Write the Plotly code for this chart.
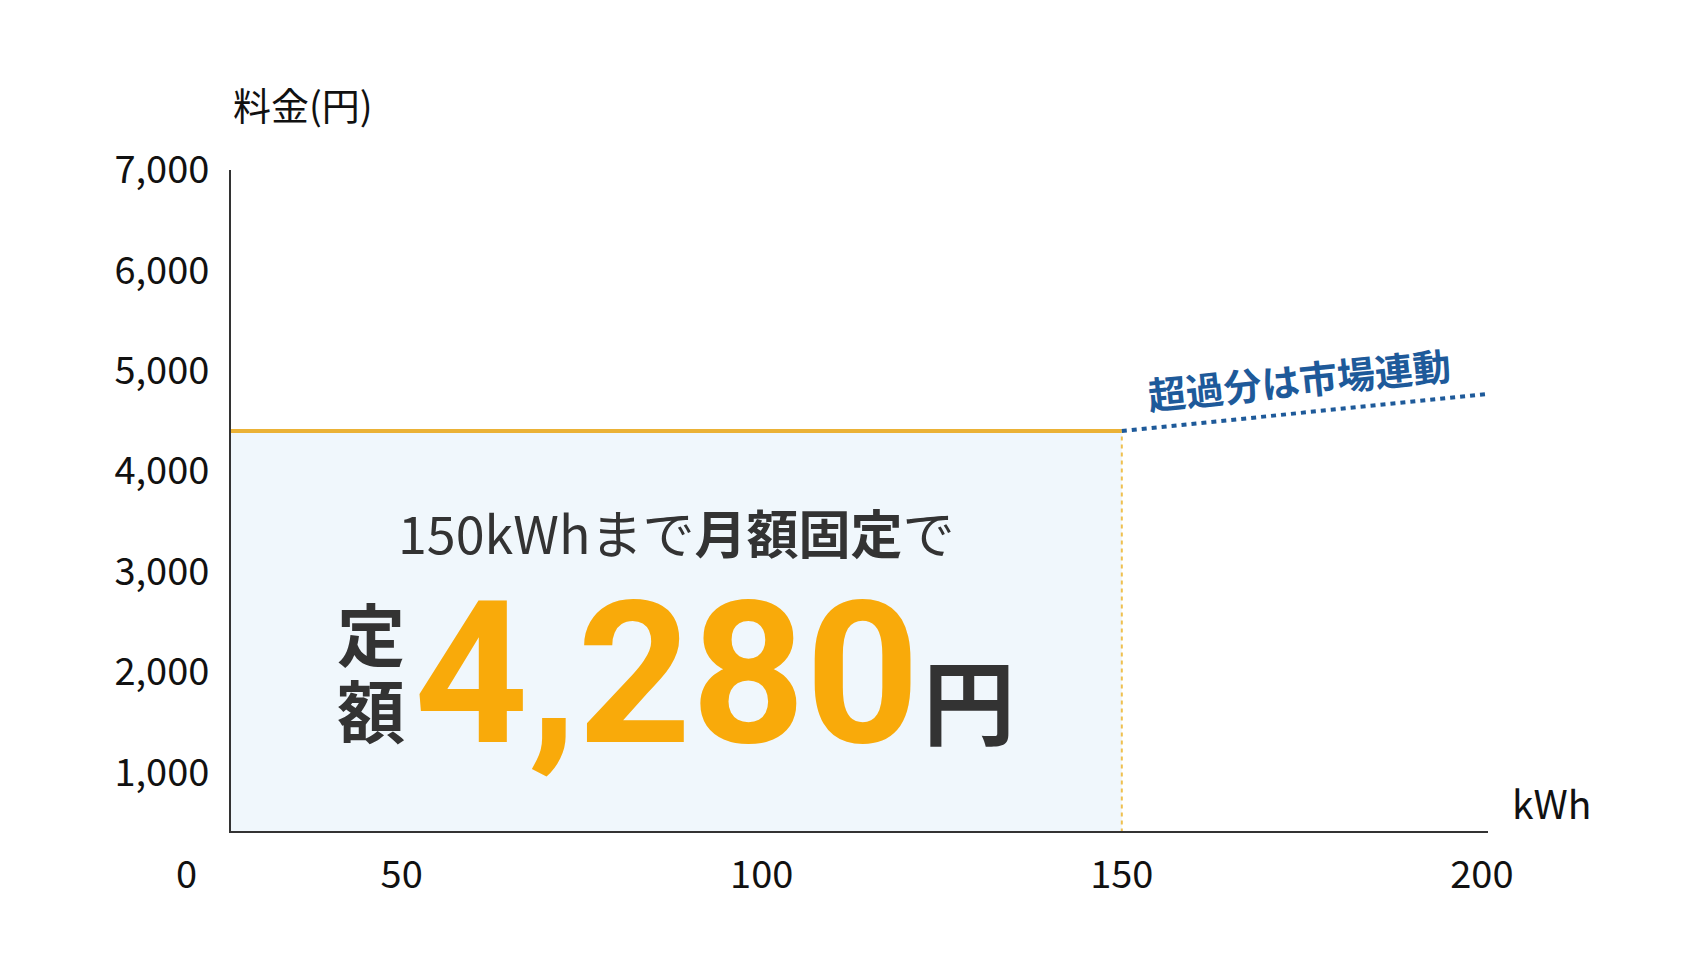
import plotly.graph_objects as go

# chart values
fixed_kwh = [0, 150]
fixed_yen = [4400, 4400]
market_kwh = [150, 200.8]
market_yen = [4400, 4768]
x_ticks = [50, 100, 150, 200]
y_ticks = [1000, 2000, 3000, 4000, 5000, 6000, 7000]

FONT = "Noto Sans CJK JP"
YELLOW = "#EBB236"
BLUE = "#1E5A9A"
DARK = "#333333"

# page sits 8px in from the window corner (body margin)
OFF = 8
FW, FH = 1688 - OFF, 958 - OFF
# plot area in window pixels, used to place the free text
L, R, T, B = 231, 1488, 170, 831
W, H = R - L, B - T


def px(x):
    return (x - L) / W


def py(y):
    return (B - y) / H


fig = go.Figure()

# light fill under the fixed price
fig.add_trace(go.Scatter(
    x=fixed_kwh, y=fixed_yen, mode="lines", fill="tozeroy",
    fillcolor="#F0F7FC", line=dict(color=YELLOW, width=4),
    hoverinfo="skip"))

# dashed guide at 150 kWh
fig.add_trace(go.Scatter(
    x=[fixed_kwh[1], fixed_kwh[1]], y=[0, fixed_yen[1]], mode="lines",
    line=dict(color="#EFC04F", width=2, dash="4px,4px"), hoverinfo="skip"))

# market-linked part
fig.add_trace(go.Scatter(
    x=market_kwh, y=market_yen, mode="lines",
    line=dict(color=BLUE, width=4, dash="5px,5px"), hoverinfo="skip"))

ann = [
    dict(text="料金(円)", x=0, xanchor="left", y=py(104), yanchor="middle",
         font=dict(size=38, color="#111111")),
    dict(text="kWh", x=px(1510), xanchor="left", y=py(802), yanchor="middle",
         font=dict(size=39, color="#111111")),
    dict(text="0", x=px(186), xanchor="center", y=py(871), yanchor="middle",
         font=dict(size=38, color="#111111")),
    dict(text="150kWhまで<b>月額固定</b>で", x=px(676), y=py(531),
         font=dict(size=52, color=DARK)),
    dict(text="<b>定</b>", x=px(371), y=py(631), font=dict(size=68, color=DARK)),
    dict(text="<b>額</b>", x=px(371), y=py(708), font=dict(size=68, color=DARK)),
    dict(text="<b>4,280</b>", x=px(667), y=py(674),
         font=dict(size=199, color="#F9AA0A", family="Roboto")),
    dict(text="<b>円</b>", x=px(969), y=py(697), font=dict(size=92, color=DARK)),
    dict(text="<b>超過分は市場連動</b>", x=px(1299), y=py(378), textangle=-5.8,
         font=dict(size=38, color=BLUE)),
]
for a in ann:
    a.setdefault("xanchor", "center")
    a.setdefault("yanchor", "middle")
    fig.add_annotation(xref="paper", yref="paper", showarrow=False, **a)

fig.update_layout(
    width=FW, height=FH,
    margin=dict(l=L - OFF, r=FW - (R - OFF), t=T - OFF, b=FH - (B - OFF)),
    paper_bgcolor="white", plot_bgcolor="white",
    showlegend=False,
    font=dict(family=FONT, size=38, color="#111111"),
)
fig.update_xaxes(
    range=[26.3, 200.85], tickvals=x_ticks, showgrid=False, zeroline=False,
    showline=True, linecolor=DARK, linewidth=2, ticks="",
    ticklabelstandoff=9, tickfont=dict(size=38, color="#111111"))
fig.update_yaxes(
    range=[414, 7000], tickvals=y_ticks, tickformat=",d", showgrid=False,
    zeroline=False, showline=True, linecolor=DARK, linewidth=2, ticks="",
    ticklabelstandoff=12, tickfont=dict(size=38, color="#111111"))

fig.write_html("out.html", config={"displayModeBar": False})
